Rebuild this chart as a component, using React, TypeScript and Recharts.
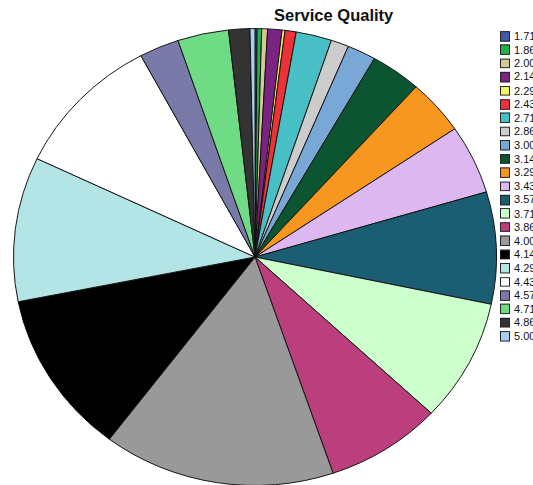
import React from "react";
import { PieChart, Pie, Cell, Legend } from "recharts";

const categories = ["1.71","1.86","2.00","2.14","2.29","2.43","2.71","2.86","3.00","3.14","3.29","3.43","3.57","3.71","3.86","4.00","4.14","4.29","4.43","4.57","4.71","4.86","5.00"];
const values = [0.5,1.1,1.4,3.45,0.7,2.7,8.6,4.3,6.9,12.2,14.0,17.6,28.5,31.2,28.0,56.0,41.6,36.8,36.3,9.6,12.3,5.1,1.2];
const colors = ["#3d5ba9","#22b04b","#d3c996","#7a2382","#f7f25e","#ee3039","#47bfc4","#cccccc","#7aa8d6","#0b5530","#f7971f","#dcb7f0","#1b5e73","#ccffcc","#bb3f7d","#999999","#000000","#b3e5e7","#ffffff","#7a7aa8","#70db85","#333333","#a8cff0"];
const title = "Service Quality";

const data = categories.map((c, i) => ({ name: c, value: values[i] }));

const SY = 0.946;

const LegendContent = () => (
  <div style={{ fontFamily: "'Liberation Sans', Arial, sans-serif", fontSize: 11, color: "#111" }}>
    {categories.map((c, i) => (
      <div key={c} style={{ height: 14.43, display: "flex", alignItems: "center", whiteSpace: "nowrap" }}>
        <span style={{ display: "inline-block", width: 8, height: 8.6, background: colors[i], border: "1px solid #222", marginRight: 4 }} />
        <span>{c}</span>
      </div>
    ))}
  </div>
);

export default function App() {
  return (
    <div style={{ position: "absolute", left: 0, top: 0, width: 533, height: 485, overflow: "hidden", background: "#fff" }}>
      <div style={{ position: "absolute", left: 0, top: 0, width: 533, height: 513, transform: `scaleY(${SY})`, transformOrigin: "0 0" }}>
        <div style={{ position: "absolute", left: 0, top: 0, width: 533, textAlign: "left", fontFamily: "'Liberation Sans', Arial, sans-serif", fontWeight: "bold", fontSize: 16.5, color: "#111" }}>
          <div style={{ position: "absolute", left: 274, top: 7 }}>{title}</div>
        </div>
        <PieChart width={533} height={513} margin={{ top: 0, right: 0, bottom: 0, left: 0 }}>
          <Pie
            data={data}
            dataKey="value"
            nameKey="name"
            cx={255}
            cy={271.7}
            outerRadius={241.5}
            startAngle={90}
            endAngle={-270}
            stroke="#111"
            strokeWidth={1}
            isAnimationActive={false}
          >
            {data.map((d, i) => (
              <Cell key={d.name} fill={colors[i]} />
            ))}
          </Pie>
          <Legend
            layout="vertical"
            align="right"
            verticalAlign="top"
            content={<LegendContent />}
            wrapperStyle={{ left: 500, top: 31, width: 40 }}
          />
        </PieChart>
      </div>
    </div>
  );
}
